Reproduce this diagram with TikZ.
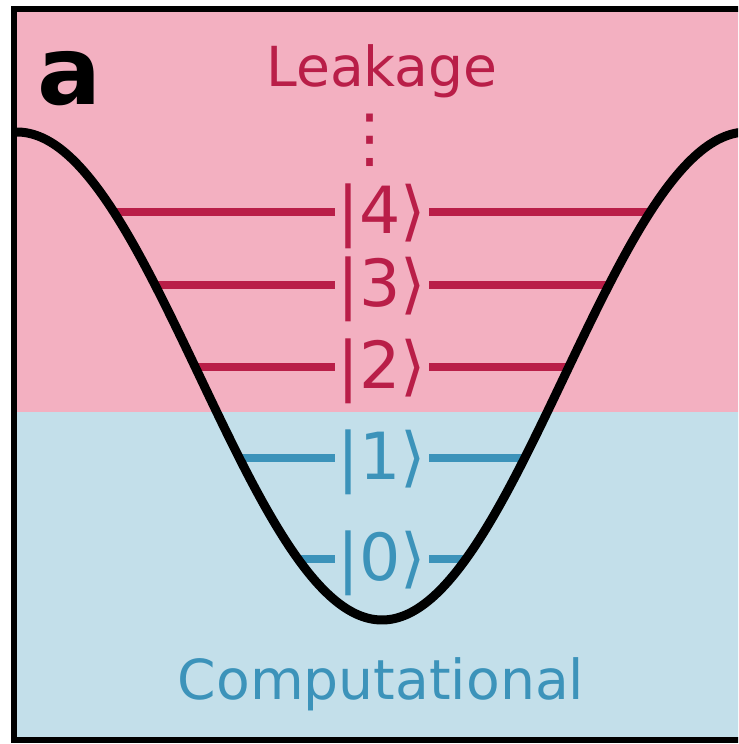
\documentclass[tikz,border=0pt]{standalone}
\usepackage{fontspec}
\setmainfont{DejaVu Sans}
\definecolor{leakbg}{RGB}{243,176,193}
\definecolor{leakred}{RGB}{185,30,72}
\definecolor{compbg}{RGB}{195,223,234}
\definecolor{compblue}{RGB}{60,147,186}
\tikzset{
  level/.style={line width=0.174cm},
  ket/.style={font=\fontsize{37}{40}\selectfont, inner sep=1.5pt, anchor=base},
  zone/.style={font=\fontsize{31.4}{36}\selectfont, inner sep=0pt, anchor=base},
}
\begin{document}
\begin{tikzpicture}[x=0.02cm,y=-0.02cm]
\useasboundingbox (0,0) rectangle (738,744);
\clip (0,0) rectangle (738,744);
\fill[leakbg] (14,9) rectangle (760,412);
\fill[compbg] (14,412) rectangle (760,740);
\node[anchor=base west, inner sep=0pt, font=\fontsize{54}{60}\selectfont\bfseries] (panel) at (37,104) {a};
\node[zone, text=leakred] (leak) at (382,86) {Leakage};
\node[zone, text=compblue] (comp) at (381,699) {Computational};
\node[ket, text=leakred, anchor=center] (dots) at (370,140) {⋮};
\node[ket, text=leakred] (k4) at (382,233) {|4⟩};
\node[ket, text=leakred] (k3) at (382,306) {|3⟩};
\node[ket, text=leakred] (k2) at (382,388) {|2⟩};
\node[ket, text=compblue] (k1) at (382,479) {|1⟩};
\node[ket, text=compblue] (k0) at (382,580) {|0⟩};
\coordinate (l4) at (114,212); \coordinate (r4) at (650,212);
\coordinate (l3) at (155,285); \coordinate (r3) at (609,285);
\coordinate (l2) at (195,367); \coordinate (r2) at (569,367);
\coordinate (l1) at (239,458); \coordinate (r1) at (525,458);
\coordinate (l0) at (298,559); \coordinate (r0) at (466,559);
\draw[level, leakred] (l4) -- (l4 -| k4.west); \draw[level, leakred] (k4.east |- r4) -- (r4);
\draw[level, leakred] (l3) -- (l3 -| k3.west); \draw[level, leakred] (k3.east |- r3) -- (r3);
\draw[level, leakred] (l2) -- (l2 -| k2.west); \draw[level, leakred] (k2.east |- r2) -- (r2);
\draw[level, compblue] (l1) -- (l1 -| k1.west); \draw[level, compblue] (k1.east |- r1) -- (r1);
\draw[level, compblue] (l0) -- (l0 -| k0.west); \draw[level, compblue] (k0.east |- r0) -- (r0);
\draw[line width=0.18cm] plot[domain=17:747, samples=150, smooth] (\x, {376+244*cos(0.49315*(\x-382))});
\draw[line width=0.13cm] (14,9) rectangle (760,740);
\end{tikzpicture}
\end{document}
